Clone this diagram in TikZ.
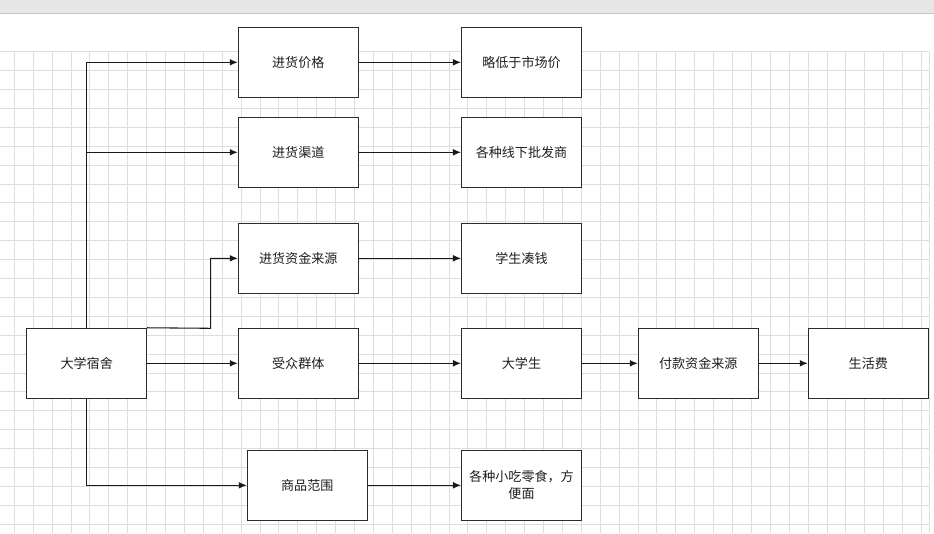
\documentclass[tikz,border=0pt]{standalone}
\usepackage{fontspec}
\setmainfont{Noto Sans CJK SC}
\usetikzlibrary{arrows.meta}
\definecolor{gridc}{HTML}{DEDEDE}
\definecolor{barc}{HTML}{E6E6E6}
\definecolor{barline}{HTML}{C4C4C4}
\definecolor{boxc}{HTML}{2B2B2B}
\definecolor{txtc}{HTML}{1E1E1E}
\tikzset{
  box/.style={draw=boxc, line width=0.8pt, fill=white, minimum width=90pt, minimum height=52.5pt, inner sep=0pt, font=\fontsize{9.8pt}{13pt}\selectfont, text=txtc, align=center},
  arr/.style={draw=black!90, line width=0.8pt, -{Latex[length=6pt,width=5pt]}},
  ln/.style={draw=black!90, line width=0.8pt}
}
\begin{document}
\begin{tikzpicture}[x=0.75pt,y=-0.75pt]
\useasboundingbox (0,0) rectangle (934,533);
\fill[white] (0,0) rectangle (934,533);
% top bar
\fill[barc] (0,0) rectangle (934,13.3);
\draw[barline, line width=0.9pt] (0,13.3) -- (934,13.3);
% grid
\foreach \i in {0,...,48} {\draw[gridc, line width=0.7pt] ({14.3+18.9*\i},51.7) -- ({14.3+18.9*\i},533);}
\foreach \j in {0,...,25} {\draw[gridc, line width=0.7pt] (0,{51.7+18.9*\j}) -- (929,{51.7+18.9*\j});}
\draw[gridc, line width=0.7pt] (929,51.7) -- (929,533);
% nodes
\node[box] (dorm) at (86.7,363.3) {大学宿舍};
\node[box] (jgjg) at (298.3,62.3) {进货价格};
\node[box] (jgqd) at (298.3,152.3) {进货渠道};
\node[box] (jgzj) at (298.3,258.3) {进货资金来源};
\node[box] (szqt) at (298.3,363.3) {受众群体};
\node[box] (spfw) at (307.3,485.3) {商品范围};
\node[box] (ldy) at (521.5,62.3) {略低于市场价};
\node[box] (gzxx) at (521.5,152.3) {各种线下批发商};
\node[box] (xscq) at (521.5,258.3) {学生凑钱};
\node[box] (dxs) at (521.5,363.3) {大学生};
\node[box] (gzxc) at (521.5,485.3) {各种小吃零食，方\\便面};
\node[box] (fkzj) at (698.3,363.3) {付款资金来源};
\node[box] (shf) at (868.3,363.3) {生活费};
% connectors
\draw[arr] (dorm.north) |- (jgjg.west);
\coordinate (br) at (dorm.north |- jgqd.west);
\draw[arr] (br) -- (jgqd.west);
\coordinate (bend) at (210.7,328.3);
\draw[arr] (dorm.north east) -- (bend) |- (jgzj.west);
\draw[arr] (dorm.east) -- (szqt.west);
\draw[arr] (dorm.south) |- (spfw.west);
\draw[arr] (jgjg) -- (ldy);
\draw[arr] (jgqd) -- (gzxx);
\draw[arr] (jgzj) -- (xscq);
\draw[arr] (szqt) -- (dxs);
\draw[arr] (spfw) -- (gzxc);
\draw[arr] (dxs) -- (fkzj);
\draw[arr] (fkzj) -- (shf);
\end{tikzpicture}
\end{document}
